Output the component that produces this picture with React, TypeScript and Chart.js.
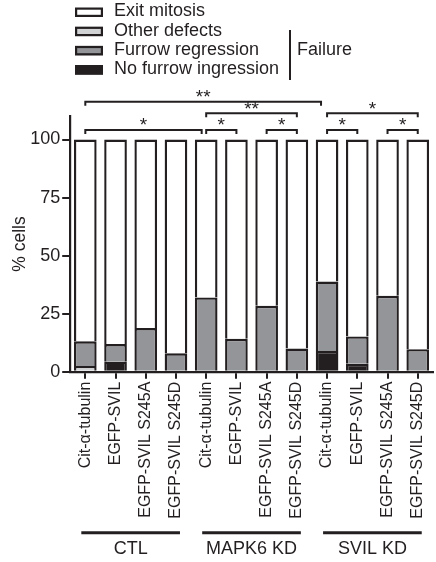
import React, { useEffect, useRef } from "react";
import { Chart, registerables } from "chart.js";

Chart.register(...registerables);

const categories = [
  "Cit-α-tubulin", "EGFP-SVIL", "EGFP-SVIL S245A", "EGFP-SVIL S245D",
  "Cit-α-tubulin", "EGFP-SVIL", "EGFP-SVIL S245A", "EGFP-SVIL S245D",
  "Cit-α-tubulin", "EGFP-SVIL", "EGFP-SVIL S245A", "EGFP-SVIL S245D",
];
const noFurrowIngression = [0, 4.3, 0, 0, 0, 0, 0, 0, 8.9, 3.4, 0, 0];
const otherDefects = [2.5, 0, 0, 0, 0, 0, 0, 0, 0, 0, 0, 0];
const furrowRegression = [10.6, 7.6, 18.8, 7.9, 32.0, 14.2, 28.4, 10.0, 29.9, 11.8, 32.7, 9.7];
const exitMitosis = categories.map(
  (_, i) => 100 - noFurrowIngression[i] - otherDefects[i] - furrowRegression[i]
);
const legendOrder = ["Exit mitosis", "Other defects", "Furrow regression", "No furrow ingression"];
const yTicks = [0, 25, 50, 75, 100];
const groupLabels = ["CTL", "MAPK6 KD", "SVIL KD"];
const groupRanges = [[0, 3], [4, 7], [8, 11]];
const bracketLevels = [104.1, 111.3, 116.3];
const brackets = [
  { from: 0, to: 7.8, level: 2, label: "**" },
  { from: 4, to: 7, level: 1, label: "**" },
  { from: 8, to: 11, level: 1, label: "*" },
  { from: 0, to: 3.85, level: 0, label: "*" },
  { from: 4, to: 5, level: 0, label: "*" },
  { from: 6, to: 7, level: 0, label: "*" },
  { from: 8, to: 9, level: 0, label: "*" },
  { from: 10, to: 11, level: 0, label: "*" },
];

const INK = "#231f20";
const GRAY = "#939598";
const LIGHT = "#d1d3d4";
const FONT = "'Liberation Sans', Arial, sans-serif";

const overlayPlugin = {
  id: "overlay",
  afterDraw(chart: any) {
    const ctx = chart.ctx;
    const xs = chart.scales.x;
    const ys = chart.scales.y;
    const area = chart.chartArea;
    ctx.save();
    ctx.strokeStyle = INK;
    ctx.fillStyle = INK;
    ctx.lineWidth = 2;
    // significance brackets
    for (const b of brackets) {
      const x1 = xs.getPixelForValue(b.from);
      const x2 = xs.getPixelForValue(b.to);
      const yy = ys.getPixelForValue(bracketLevels[b.level]);
      ctx.beginPath();
      ctx.moveTo(x1, yy + 4);
      ctx.lineTo(x1, yy);
      ctx.lineTo(x2, yy);
      ctx.lineTo(x2, yy + 4);
      ctx.stroke();
      ctx.font = `19px ${FONT}`;
      ctx.textAlign = "center";
      ctx.textBaseline = "alphabetic";
      ctx.fillText(b.label, (x1 + x2) / 2, yy + 1.5);
    }
    // group lines and labels
    groupRanges.forEach((r, i) => {
      const x1 = xs.getPixelForValue(r[0]) - 4;
      const x2 = xs.getPixelForValue(r[1]) + 4;
      const yy = area.bottom + 161;
      ctx.lineWidth = 3;
      ctx.beginPath();
      ctx.moveTo(x1, yy);
      ctx.lineTo(x2, yy);
      ctx.stroke();
      ctx.font = `18px ${FONT}`;
      ctx.textAlign = "center";
      ctx.textBaseline = "middle";
      ctx.fillText(groupLabels[i], (x1 + x2) / 2, yy + 16);
    });
    // legend
    legendOrder.forEach((name, i) => {
      const d = chart.data.datasets.find((q: any) => q.label === name);
      const by = 7.5 + i * 19.2;
      ctx.fillStyle = d.backgroundColor;
      ctx.fillRect(75, by, 28, 9.5);
      ctx.lineWidth = 2.2;
      ctx.strokeStyle = INK;
      ctx.strokeRect(76.1, by + 1.1, 25.8, 7.3);
      ctx.fillStyle = INK;
      ctx.font = `18px ${FONT}`;
      ctx.textAlign = "left";
      ctx.textBaseline = "middle";
      ctx.fillText(name, 114, by + 4);
    });
    ctx.lineWidth = 2;
    ctx.beginPath();
    ctx.moveTo(290, 30);
    ctx.lineTo(290, 80);
    ctx.stroke();
    ctx.font = `18px ${FONT}`;
    ctx.textAlign = "left";
    ctx.textBaseline = "middle";
    ctx.fillText("Failure", 297, 50);
    ctx.restore();
  },
};

export default function App() {
  const ref = useRef<HTMLCanvasElement | null>(null);
  useEffect(() => {
    if (!ref.current) return;
    const common = {
      borderColor: INK,
      borderWidth: 2.4,
      borderSkipped: "bottom" as const,
      barPercentage: 0.75,
      categoryPercentage: 1,
    };
    const chart = new Chart(ref.current, {
      type: "bar",
      data: {
        labels: categories,
        datasets: [
          { label: "No furrow ingression", data: noFurrowIngression, backgroundColor: INK, ...common },
          { label: "Other defects", data: otherDefects, backgroundColor: LIGHT, ...common },
          { label: "Furrow regression", data: furrowRegression, backgroundColor: GRAY, ...common },
          { label: "Exit mitosis", data: exitMitosis, backgroundColor: "#ffffff", ...common },
        ],
      },
      options: {
        responsive: false,
        animation: false,
        devicePixelRatio: 1,
        layout: { padding: { left: 0, top: 116.3, right: 1.4, bottom: 40.3 } },
        plugins: { legend: { display: false }, tooltip: { enabled: false } },
        scales: {
          x: {
            stacked: true,
            afterFit: (s: any) => { s.height = 150; },
            border: { display: true, color: INK, width: 2.2 },
            grid: { display: true, drawOnChartArea: false, offset: false, tickLength: 7, lineWidth: 2, color: INK },
            ticks: {
              autoSkip: false, minRotation: 90, maxRotation: 90, padding: 3,
              color: INK, font: { family: FONT, size: 16 },
            },
          },
          y: {
            stacked: true,
            min: 0,
            max: 110,
            afterFit: (s: any) => { s.width = 70.2; },
            afterBuildTicks: (s: any) => { s.ticks = yTicks.map((v) => ({ value: v })); },
            border: { display: true, color: INK, width: 2.2 },
            grid: { display: true, drawOnChartArea: false, tickLength: 8, lineWidth: 2, color: INK },
            ticks: { padding: 2, color: INK, font: { family: FONT, size: 18 } },
            title: {
              display: true, text: "% cells", color: INK,
              font: { family: FONT, size: 17.5 }, padding: { top: 10, bottom: 0 },
            },
          },
        },
      },
      plugins: [overlayPlugin],
    });
    return () => chart.destroy();
  }, []);
  return (
    <div style={{ position: "fixed", left: 0, top: 0, width: 440, height: 562 }}>
      <canvas ref={ref} width={440} height={562} />
    </div>
  );
}
